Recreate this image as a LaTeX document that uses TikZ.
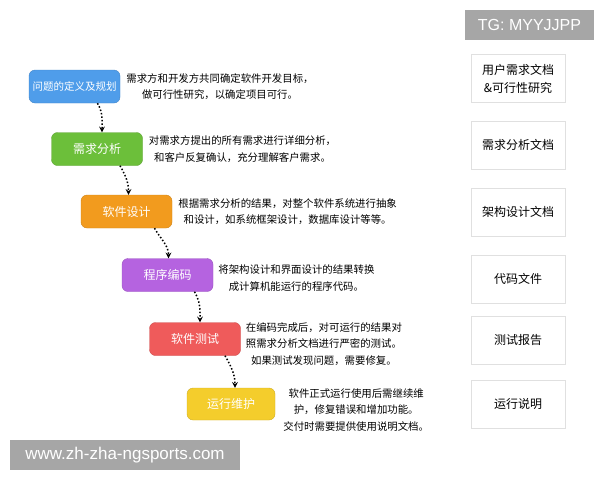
\documentclass[tikz,border=0pt]{standalone}
\usepackage{fontspec}
\newfontfamily\cjk{Noto Sans CJK SC}
\newfontfamily\wmfont{Liberation Sans}
\usetikzlibrary{positioning}
\definecolor{cblue}{HTML}{4F9DEA}
\definecolor{cgreen}{HTML}{6CBF3A}
\definecolor{corange}{HTML}{F29B1E}
\definecolor{cpurple}{HTML}{B563E0}
\definecolor{cred}{HTML}{EF5B5B}
\definecolor{cyellow}{HTML}{F4CD2C}
\definecolor{wmgray}{HTML}{A6A6A6}
\tikzset{
  stage/.style={fill=#1, draw=#1!85!black, rounded corners=6pt, minimum width=91pt, minimum height=33pt, text=white, font=\cjk\fontsize{12}{14}\selectfont},
  note/.style={align=center, inner sep=0pt, font=\cjk\fontsize{10.4}{16.5}\selectfont},
  doc/.style={draw=black!12, line width=1pt, minimum width=94pt, minimum height=48pt, align=center, font=\cjk\fontsize{12}{18}\selectfont},
  flow/.style={-stealth, dotted, line width=1.5pt},
  wmbox/.style={fill=wmgray, text=white, font=\wmfont\fontsize{16}{18}\selectfont, inner sep=0pt}
}
\begin{document}
\begin{tikzpicture}[x=1pt, y=-1pt]
\useasboundingbox (0,0) rectangle (600,480);
% stages
\node[stage=cblue, font=\cjk\fontsize{10.5}{12}\selectfont] (plan) at (74.5,86.5) {问题的定义及规划};
\node[stage=cgreen] (req) at (97,149) {需求分析}; \node[stage=corange] (design) at (126.5,211.5) {软件设计};
\node[stage=cpurple] (code) at (167.5,275) {程序编码}; \node[stage=cred] (test) at (195,339) {软件测试};
\node[stage=cyellow, minimum width=88pt, minimum height=32pt] (run) at (231,404) {运行维护};
% notes
\node[note, right=6pt of plan] (nplan) {需求方和开发方共同确定软件开发目标，\\做可行性研究，以确定项目可行。};
\node[note, right=6pt of req] (nreq) {对需求方提出的所有需求进行详细分析，\\和客户反复确认，充分理解客户需求。};
\node[note, right=6pt of design] (ndesign) {根据需求分析的结果，对整个软件系统进行抽象\\和设计，如系统框架设计，数据库设计等等。};
\node[note, right=5pt of code, yshift=-3pt] (ncode) {将架构设计和界面设计的结果转换\\成计算机能运行的程序代码。};
\node[note, right=5pt of test, yshift=-5pt] (ntest) {在编码完成后，对可运行的结果对\\照需求分析文档进行严密的测试。\\如果测试发现问题，需要修复。};
\node[note, right=8pt of run, yshift=-6pt] (nrun) {软件正式运行使用后需继续维\\护，修复错误和增加功能。\\交付时需要提供使用说明文档。};
% documents
\node[doc] (dplan) at (518,78.5) {用户需求文档\\\&可行性研究}; \node[doc] (dreq) at (518,145) {需求分析文档};
\node[doc] (ddesign) at (518,212) {架构设计文档}; \node[doc] (dcode) at (518,279) {代码文件};
\node[doc] (dtest) at (518,340) {测试报告}; \node[doc] (drun) at (518,404) {运行说明};
% flow
\draw[flow] ([xshift=23pt]plan.south) to[out=-60,in=90] ([xshift=5pt]req.north);
\draw[flow] ([xshift=23pt]req.south) to[out=-60,in=90] ([xshift=2pt]design.north);
\draw[flow] ([xshift=28pt]design.south) to[out=-60,in=90] ([xshift=1pt]code.north);
\draw[flow] ([xshift=27pt]code.south) to[out=-60,in=90] ([xshift=5pt]test.north);
\draw[flow] ([xshift=30pt]test.south) to[out=-60,in=90] ([xshift=4pt]run.north);
% watermarks
\node[wmbox, minimum width=129pt, minimum height=30pt] (tg) at (529.5,25) {TG: MYYJJPP};
\node[wmbox, minimum width=230pt, minimum height=30pt, font=\wmfont\fontsize{17}{18}\selectfont] (site) at (125,455) {www.zh-zha-ngsports.com};
\end{tikzpicture}
\end{document}
